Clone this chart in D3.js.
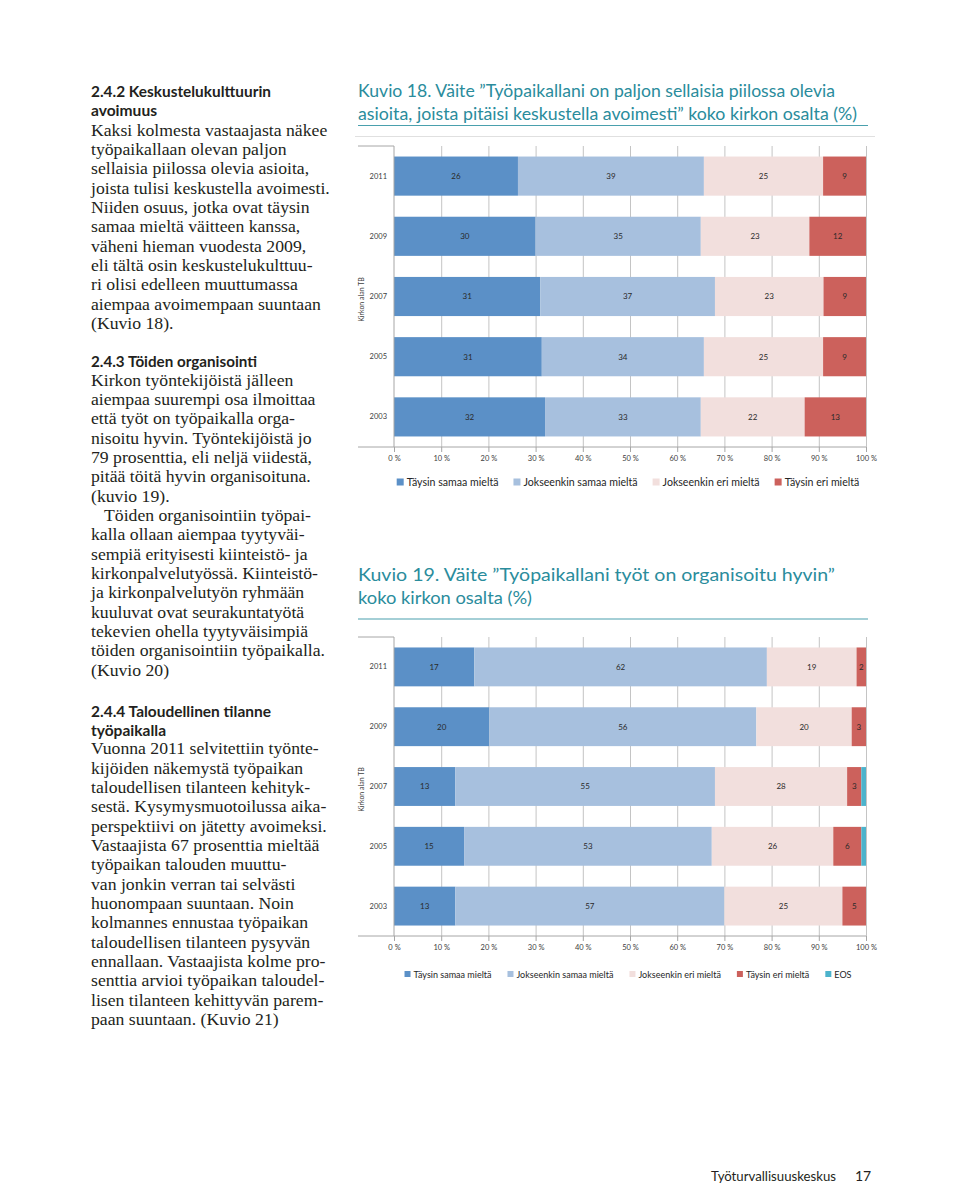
<!DOCTYPE html>
<html><head><meta charset="utf-8">
<script src="https://cdn.jsdelivr.net/npm/d3@7"></script>
<style>body{margin:0;background:#fff}</style>
</head><body>
<svg id="page" width="960" height="1186"></svg>
<script>
// ---------- DATA ----------
const years = ["2011", "2009", "2007", "2005", "2003"];
const groupLabel = "Kirkon alan TB";
const xTickValues = [0, 10, 20, 30, 40, 50, 60, 70, 80, 90, 100];
const xTickLabels = ["0 %", "10 %", "20 %", "30 %", "40 %", "50 %", "60 %", "70 %", "80 %", "90 %", "100 %"];

// Kuvio 18
const k18Series = ["Täysin samaa mieltä", "Jokseenkin samaa mieltä", "Jokseenkin eri mieltä", "Täysin eri mieltä"];
const k18TaysinSamaa = [26, 30, 31, 31, 32];
const k18JokseenkinSamaa = [39, 35, 37, 34, 33];
const k18JokseenkinEri = [25, 23, 23, 25, 22];
const k18TaysinEri = [9, 12, 9, 9, 13];

// Kuvio 19
const k19Series = ["Täysin samaa mieltä", "Jokseenkin samaa mieltä", "Jokseenkin eri mieltä", "Täysin eri mieltä", "EOS"];
const k19TaysinSamaa = [17, 20, 13, 15, 13];
const k19JokseenkinSamaa = [62, 56, 55, 53, 57];
const k19JokseenkinEri = [19, 20, 28, 26, 25];
const k19TaysinEri = [2, 3, 3, 6, 5];
const k19Eos = [0, 0, 1, 1, 0];

const k18Title = ["Kuvio 18. Väite ”Työpaikallani on paljon sellaisia piilossa olevia", "asioita, joista pitäisi keskustella avoimesti” koko kirkon osalta (%)"];
const k19Title = ["Kuvio 19. Väite ”Työpaikallani työt on organisoitu hyvin”", "koko kirkon osalta (%)"];

// Page text
const sec1Head = ["2.4.2 Keskustelukulttuurin", "avoimuus"];
const sec1Body = ["Kaksi kolmesta vastaajasta näkee", "työpaikallaan olevan paljon", "sellaisia piilossa olevia asioita,", "joista tulisi keskustella avoimesti.", "Niiden osuus, jotka ovat täysin", "samaa mieltä väitteen kanssa,", "väheni hieman vuodesta 2009,", "eli tältä osin keskustelukulttuu-", "ri olisi edelleen muuttumassa", "aiempaa avoimempaan suuntaan", "(Kuvio 18)."];
const sec2Head = ["2.4.3 Töiden organisointi"];
const sec2Body = ["Kirkon työntekijöistä jälleen", "aiempaa suurempi osa ilmoittaa", "että työt on työpaikalla orga-", "nisoitu hyvin. Työntekijöistä jo", "79 prosenttia, eli neljä viidestä,", "pitää töitä hyvin organisoituna.", "(kuvio 19).", "\tTöiden organisointiin työpai-", "kalla ollaan aiempaa tyytyväi-", "sempiä erityisesti kiinteistö- ja", "kirkonpalvelutyössä. Kiinteistö-", "ja kirkonpalvelutyön ryhmään", "kuuluvat ovat seurakuntatyötä", "tekevien ohella tyytyväisimpiä", "töiden organisointiin työpaikalla.", "(Kuvio 20)"];
const sec3Head = ["2.4.4 Taloudellinen tilanne", "työpaikalla"];
const sec3Body = ["Vuonna 2011 selvitettiin työnte-", "kijöiden näkemystä työpaikan", "taloudellisen tilanteen kehityk-", "sestä. Kysymysmuotoilussa aika-", "perspektiivi on jätetty avoimeksi.", "Vastaajista 67 prosenttia mieltää", "työpaikan talouden muuttu-", "van jonkin verran tai selvästi", "huonompaan suuntaan. Noin", "kolmannes ennustaa työpaikan", "taloudellisen tilanteen pysyvän", "ennallaan. Vastaajista kolme pro-", "senttia arvioi työpaikan taloudel-", "lisen tilanteen kehittyvän parem-", "paan suuntaan. (Kuvio 21)"];
const footerText = ["Työturvallisuuskeskus", "17"];

// ---------- STYLE ----------
const colors = ["#5b90c7", "#a7c0de", "#f2dfdd", "#cc615c", "#4cb3cc"];
const teal = "#2a8c9c";
const ink = "#231f20";
const svg = d3.select("#page");
svg.append("rect").attr("width", 960).attr("height", 1186).attr("fill", "#fff");

// ---------- PAGE TEXT ----------
function block(x, yHead, head, headW, yBody, body) {
  const lh = 19.33;
  head.forEach((t, i) => {
    svg.append("text").attr("x", x).attr("y", yHead + i * lh)
      .attr("font-family", "Lato, 'Open Sans', sans-serif").attr("font-weight", 700)
      .attr("font-size", 16).attr("fill", ink)
      .attr("textLength", headW[i]).attr("lengthAdjust", "spacingAndGlyphs").text(t);
  });
  body.forEach((t, i) => {
    const indent = t.startsWith("\t") ? 13 : 0;
    svg.append("text").attr("x", x + indent).attr("y", yBody + i * lh)
      .attr("font-family", "'Liberation Serif', 'Times New Roman', serif")
      .attr("font-size", 17.7).attr("fill", ink).text(t.replace("\t", ""));
  });
}
block(91, 97, sec1Head, [180, 66], 135.7, sec1Body);
block(91, 366.7, sec2Head, [166], 385.7, sec2Body);
block(91, 716.7, sec3Head, [180, 75], 754.3, sec3Body);

svg.append("text").attr("x", 711).attr("y", 1181).attr("font-family", "Lato, sans-serif")
  .attr("font-size", 14).attr("fill", ink).attr("textLength", 125).attr("lengthAdjust", "spacingAndGlyphs").text(footerText[0]);
svg.append("text").attr("x", 855).attr("y", 1181).attr("font-family", "Lato, sans-serif")
  .attr("font-size", 14).attr("fill", ink).text(footerText[1]);

// ---------- CHARTS ----------
function drawChart(cfg) {
  const g = svg.append("g");
  cfg.title.forEach((t, i) => {
    g.append("text").attr("x", 358).attr("y", cfg.titleY + i * 22.5)
      .attr("font-family", "Lato, 'Open Sans', sans-serif").attr("font-size", 17.5)
      .attr("fill", teal).attr("textLength", cfg.titleW[i]).attr("lengthAdjust", "spacingAndGlyphs").text(t);
  });
  g.append("line").attr("x1", 358).attr("x2", 868).attr("y1", cfg.ruleY).attr("y2", cfg.ruleY)
    .attr("stroke", "#4aa0ad").attr("stroke-width", 1.2);
  if (cfg.borderY) {
    g.append("line").attr("x1", 355).attr("x2", 875).attr("y1", cfg.borderY).attr("y2", cfg.borderY)
      .attr("stroke", "#e0e0e0").attr("stroke-width", 1);
  }

  const x = d3.scaleLinear().domain([0, 1]).range([394, 866]);
  const y = d3.scaleBand().domain(years).range([cfg.top, cfg.bottom]).paddingInner(0.35).paddingOuter(0.175);

  // gridlines
  g.append("g").attr("transform", `translate(0,${cfg.bottom})`)
    .call(d3.axisBottom(x).tickValues(xTickValues.filter(v => v > 0).map(v => v / 100))
      .tickSize(-(cfg.bottom - cfg.top)).tickFormat(""))
    .call(a => a.select(".domain").remove())
    .call(a => a.selectAll("line").attr("stroke", "#c4c4c4").attr("stroke-width", 1));

  // stacked bars
  const keys = cfg.series;
  const rows = years.map((yr, i) => {
    const o = { year: yr };
    keys.forEach((k, j) => o[k] = cfg.values[j][i]);
    return o;
  });
  const stacked = d3.stack().keys(keys).offset(d3.stackOffsetExpand)(rows);
  stacked.forEach((layer, j) => {
    g.append("g").selectAll("rect").data(layer).join("rect")
      .attr("x", d => x(d[0])).attr("width", d => Math.max(0, x(d[1]) - x(d[0])))
      .attr("y", d => y(d.data.year)).attr("height", y.bandwidth())
      .attr("fill", colors[j]);
    if (j < 4) {
      g.append("g").selectAll("text").data(layer.filter(d => d.data[keys[j]] > 0)).join("text")
        .attr("x", d => (x(d[0]) + x(d[1])) / 2).attr("y", d => y(d.data.year) + y.bandwidth() / 2)
        .attr("dy", "0.35em").attr("text-anchor", "middle")
        .attr("font-family", "Lato, sans-serif").attr("font-size", 8).attr("fill", "#2a2a2a")
        .text(d => d.data[keys[j]]);
    }
  });

  // bottom axis
  g.append("g").attr("transform", `translate(0,${cfg.bottom})`)
    .call(d3.axisBottom(x).tickValues(xTickValues.map(v => v / 100))
      .tickFormat((d, i) => xTickLabels[i]).tickSize(5).tickPadding(4))
    .call(a => a.select(".domain").remove())
    .call(a => a.selectAll("line").attr("stroke", "#a6a6a6"))
    .call(a => a.selectAll("text").attr("font-family", "Lato, sans-serif").attr("font-size", 7.5).attr("fill", "#404040"));
  g.append("line").attr("x1", 358).attr("x2", 866).attr("y1", cfg.bottom).attr("y2", cfg.bottom)
    .attr("stroke", "#a6a6a6");

  // left category axis
  g.append("g").attr("transform", "translate(394,0)")
    .call(d3.axisLeft(y).tickSize(0).tickPadding(7))
    .call(a => a.select(".domain").attr("stroke", "#a6a6a6").attr("d", `M0,${cfg.top}V${cfg.bottom}`))
    .call(a => a.selectAll("text").attr("font-family", "Lato, sans-serif").attr("font-size", 7.5).attr("fill", "#404040"));
  g.append("line").attr("x1", 358).attr("x2", 394).attr("y1", cfg.top).attr("y2", cfg.top).attr("stroke", "#a6a6a6");
  const gy = (cfg.top + cfg.bottom) / 2 + 3;
  g.append("text").attr("transform", `translate(364,${gy}) rotate(-90)`).attr("text-anchor", "middle")
    .attr("font-family", "Lato, sans-serif").attr("font-size", 7).attr("fill", "#404040").text(groupLabel);

  // legend
  const lg = g.append("g");
  let cx = 0;
  keys.forEach((k, j) => {
    const it = lg.append("g");
    it.append("rect").attr("x", 0).attr("y", -cfg.sq / 2 - 1).attr("width", cfg.sq).attr("height", cfg.sq).attr("fill", colors[j]);
    const t = it.append("text").attr("x", cfg.sq + 3).attr("y", 0).attr("dy", "0.32em")
      .attr("font-family", "Lato, sans-serif").attr("font-size", cfg.legendFs).attr("fill", "#262626").text(k);
    const w = cfg.sq + 3 + t.node().getComputedTextLength();
    it.attr("transform", `translate(${cx},0)`);
    cx += w + cfg.legendGap;
  });
  const total = cx - cfg.legendGap;
  lg.attr("transform", `translate(${cfg.legendCx - total / 2},${cfg.legendY})`);
}

drawChart({
  title: k18Title, titleY: 97, titleW: [477, 499], ruleY: 125.5, borderY: 136.5,
  top: 146, bottom: 447,
  series: k18Series, values: [k18TaysinSamaa, k18JokseenkinSamaa, k18JokseenkinEri, k18TaysinEri],
  legendY: 483, legendFs: 10.6, sq: 7, legendGap: 15, legendCx: 628
});
drawChart({
  title: k19Title, titleY: 581, titleW: [477, 174], ruleY: 619,
  top: 637, bottom: 936,
  series: k19Series, values: [k19TaysinSamaa, k19JokseenkinSamaa, k19JokseenkinEri, k19TaysinEri, k19Eos],
  legendY: 975, legendFs: 9, sq: 6, legendGap: 16, legendCx: 628
});
</script>
</body></html>
